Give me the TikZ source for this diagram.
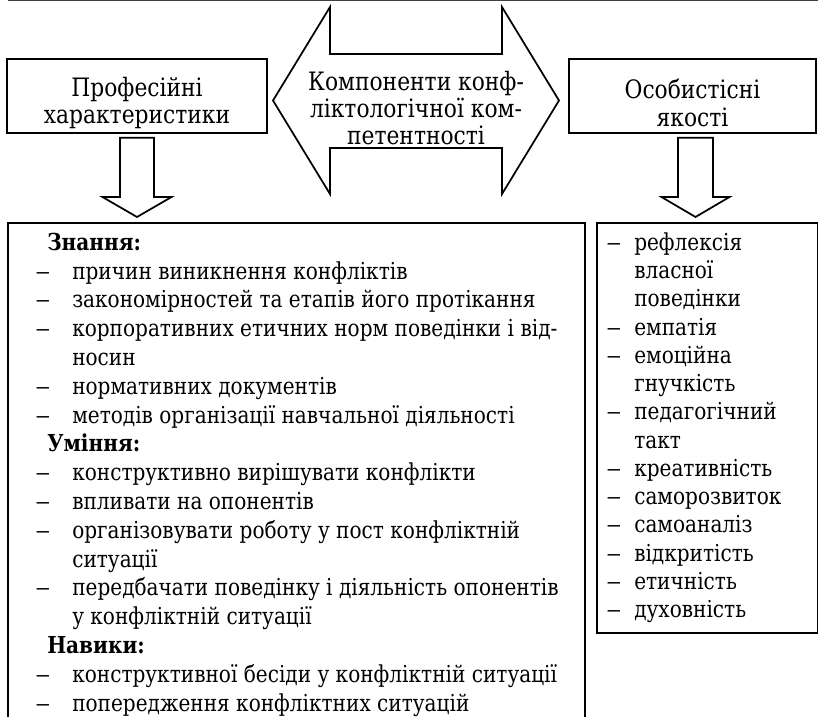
\documentclass[tikz,border=0pt]{standalone}
\usepackage{graphicx}
\usepackage{fontspec}
\setmainfont{DejaVu Serif}[FakeStretch=0.86]
\usetikzlibrary{positioning, calc}

\newcommand{\dash}{\scalebox{1.5}[1]{–}}
\newcommand{\dashline}[1]{\makebox[27.75pt][l]{\dash}#1}
\newcommand{\contline}[1]{\hspace*{27.75pt}#1}
\newcommand{\headline}[1]{\hspace*{9pt}\textbf{#1}}
\newcommand{\qdash}[1]{\makebox[21pt][l]{\dash}#1}
\newcommand{\qcont}[1]{\hspace*{21pt}#1}

\tikzset{
    box/.style={draw, line width=1.3pt, rectangle, inner sep=0pt},
    blockarrow/.style={draw, line width=1.3pt, line join=miter},
    head/.style={align=center, inner sep=0pt, font=\fontsize{19}{20.5}\selectfont},
    list/.style={align=left, inner sep=0pt, anchor=north west, font=\fontsize{17.5}{21.6}\selectfont}
}

\begin{document}
\begin{tikzpicture}[x=0.75pt, y=-0.75pt]
        \useasboundingbox (0,0) rectangle (818,717);
        \clip (0,0) rectangle (818,717);

        % Top rule
        \draw[line width=0.8pt, black!75] (8,0.5) -- (818,0.5);

        % Upper boxes
        \node[box, minimum width=195pt, minimum height=55.5pt] (prof) at (137,96) {};
        \node[head] (proftxt) at ($(prof)+(0,7)$) {Професійні\\характеристики};
        \node[box, minimum width=185.4pt, minimum height=55.5pt] (pers) at (692.5,96) {};
        \node[head] (perstxt) at ($(pers)+(0,7)$) {Особистісні\\якості};

        % Double arrow
        \node[head] (comp) at (416,108) {Компоненти конф-\\ліктологічної ком-\\петентності};
        \draw[blockarrow] (273,100.5) -- (330,7) -- (330,54) -- (502,54) -- (502,7) -- (559,100.5)
            -- (502,194) -- (502,148) -- (330,148) -- (330,194) -- cycle;

        % Lower boxes
        \node[box, anchor=north west, minimum width=432.75pt, minimum height=380pt] (know) at (7,222) {};
        \node[box, anchor=north west, minimum width=165.4pt, minimum height=307.5pt] (qual) at (596,222) {};

        % Down arrows
        \coordinate (a1) at ($(prof.south)+(0,4)$);
        \coordinate (a2) at ($(prof.south |- know.north)+(0,-5)$);
        \draw[blockarrow] ($(a1)+(-17,0)$) -- ($(a1)+(17,0)$) -- ($(a2)+(17,-20)$) -- ($(a2)+(34.5,-20)$)
            -- (a2) -- ($(a2)+(-34.5,-20)$) -- ($(a2)+(-17,-20)$) -- cycle;
        \coordinate (b1) at ($(pers.south)+(3,4)$);
        \coordinate (b2) at ($(b1 |- qual.north)+(0,-5)$);
        \draw[blockarrow] ($(b1)+(-17.5,0)$) -- ($(b1)+(17.5,0)$) -- ($(b2)+(17.5,-20)$) -- ($(b2)+(34,-20)$)
            -- (b2) -- ($(b2)+(-34,-20)$) -- ($(b2)+(-17.5,-20)$) -- cycle;

        % Lists
        \node[list] (knowtxt) at (35,230) {\rule{0pt}{15pt}\headline{Знання:}\\
            \dashline{причин виникнення конфліктів}\\
            \dashline{закономірностей та етапів його протікання}\\
            \dashline{корпоративних етичних норм поведінки і від-}\\
            \contline{носин}\\
            \dashline{нормативних документів}\\
            \dashline{методів організації навчальної діяльності}\\
            \headline{Уміння:}\\
            \dashline{конструктивно вирішувати конфлікти}\\
            \dashline{впливати на опонентів}\\
            \dashline{організовувати роботу у пост конфліктній}\\
            \contline{ситуації}\\
            \dashline{передбачати поведінку і діяльність опонентів}\\
            \contline{у конфліктній ситуації}\\
            \headline{Навики:}\\
            \dashline{конструктивної бесіди у конфліктній ситуації}\\
            \dashline{попередження конфліктних ситуацій}};
        \node[list, font=\fontsize{17.5}{21.2}\selectfont] (qualtxt) at (606,230) {\rule{0pt}{15pt}\qdash{рефлексія}\\
            \qcont{власної}\\
            \qcont{поведінки}\\
            \qdash{емпатія}\\
            \qdash{емоційна}\\
            \qcont{гнучкість}\\
            \qdash{педагогічний}\\
            \qcont{такт}\\
            \qdash{креативність}\\
            \qdash{саморозвиток}\\
            \qdash{самоаналіз}\\
            \qdash{відкритість}\\
            \qdash{етичність}\\
            \qdash{духовність}};
    \end{tikzpicture}
\end{document}
